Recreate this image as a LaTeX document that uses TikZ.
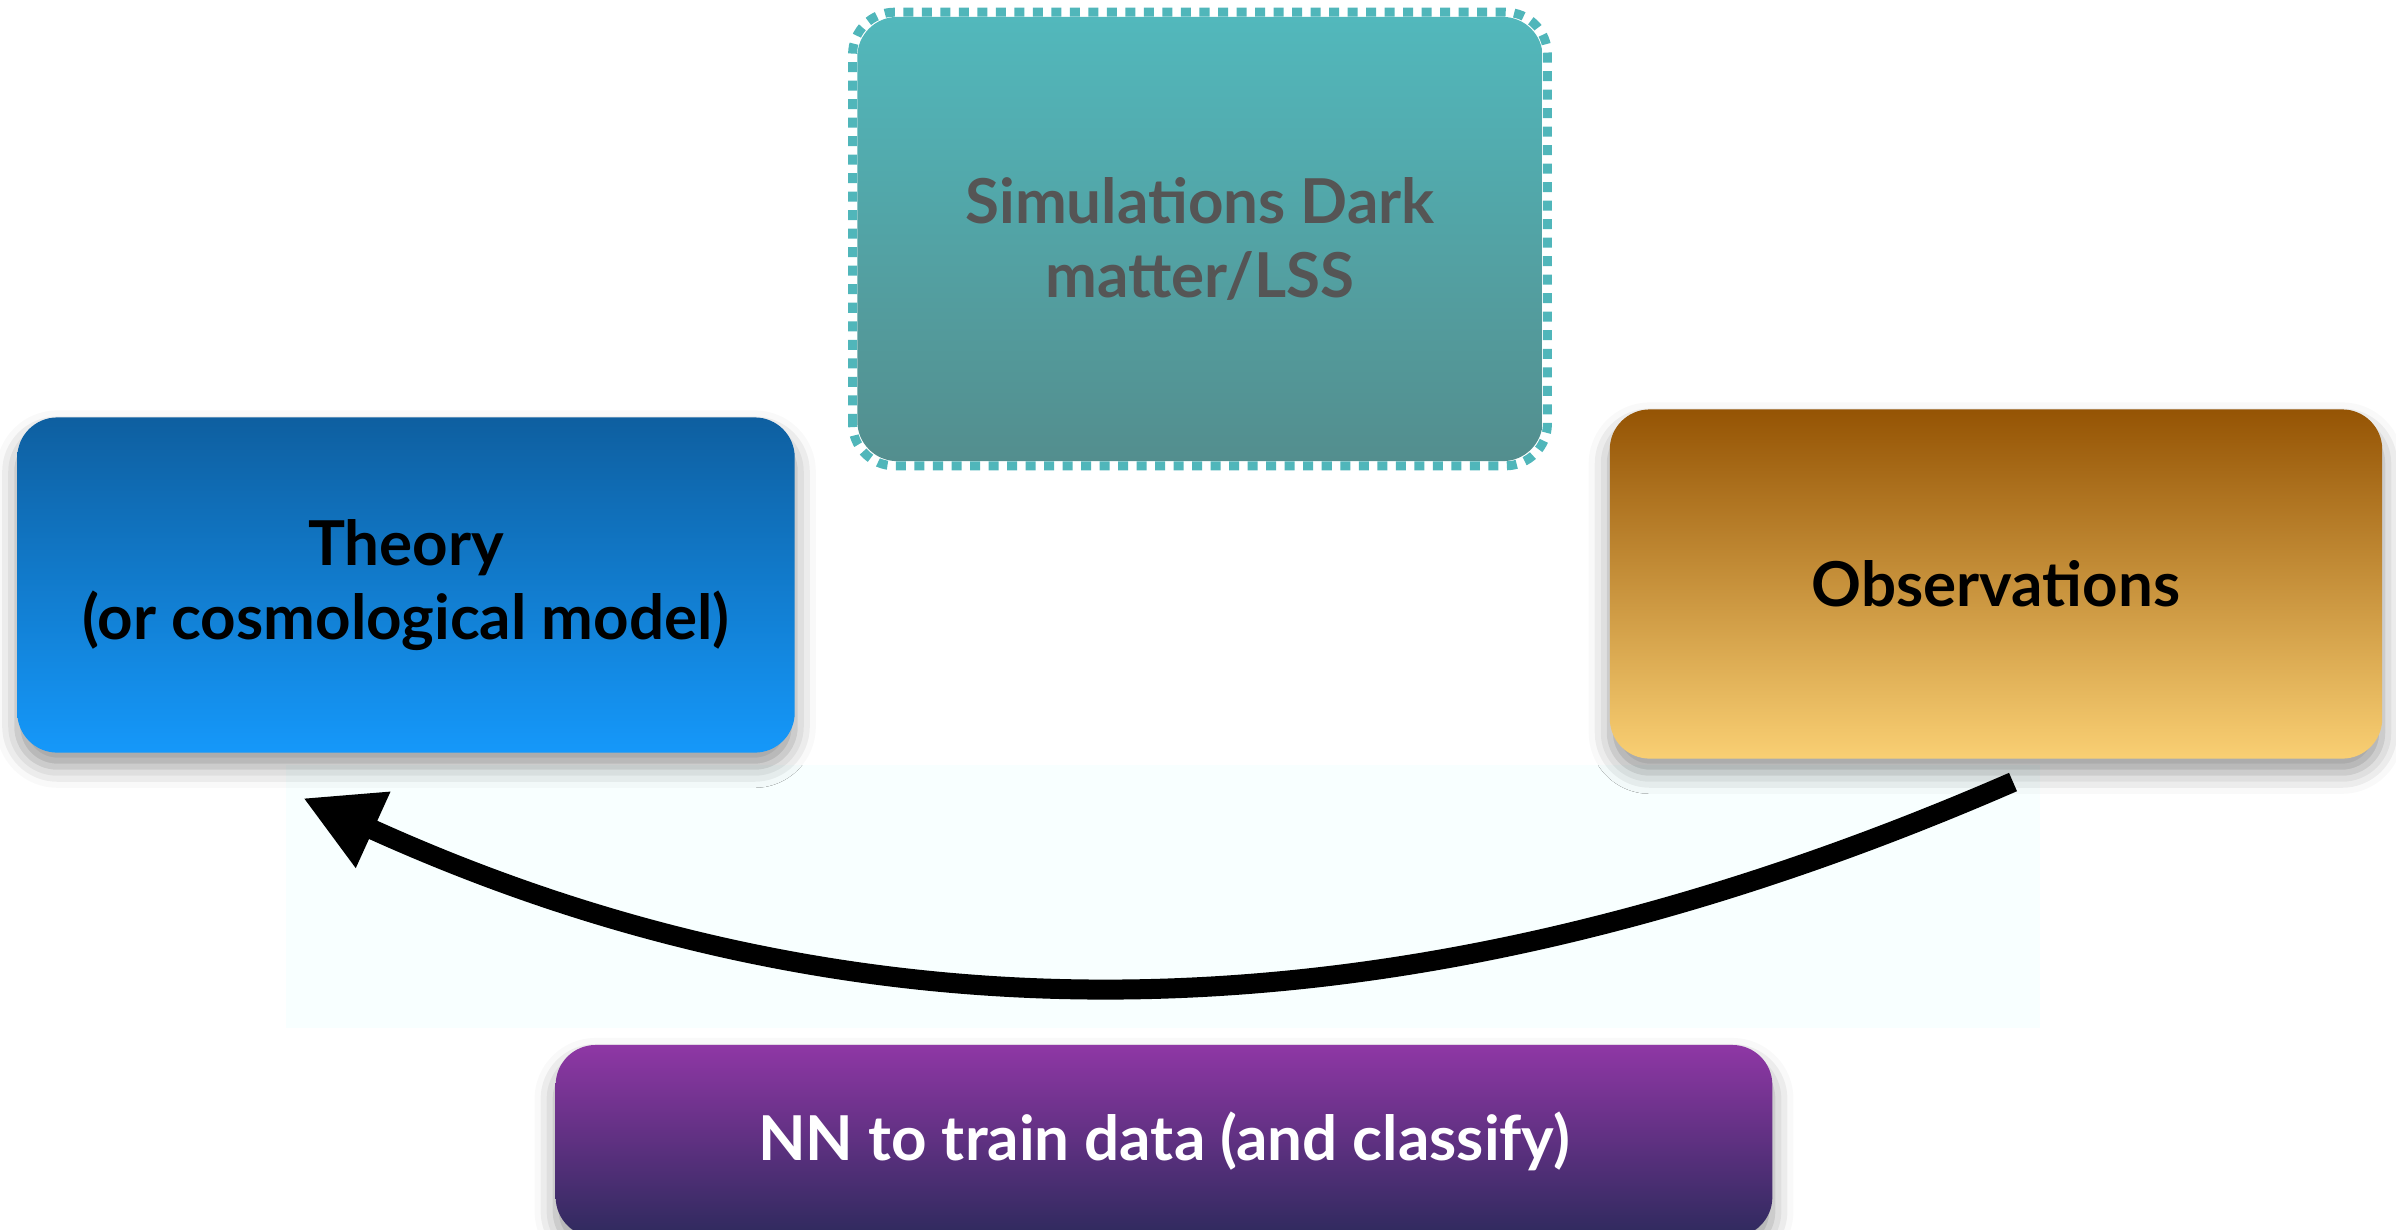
\documentclass[tikz,border=0pt]{standalone}
\usepackage{fontspec}
\setmainfont{Lato}
\usetikzlibrary{arrows.meta,shadows.blur}

\definecolor{theoryTop}{RGB}{14,95,160}
\definecolor{theoryBot}{RGB}{21,152,250}
\definecolor{simTop}{RGB}{82,184,188}
\definecolor{simBot}{RGB}{83,142,142}
\definecolor{simEdge}{RGB}{80,182,186}
\definecolor{simText}{RGB}{85,85,85}
\definecolor{obsTop}{RGB}{149,84,4}
\definecolor{obsBot}{RGB}{249,207,115}
\definecolor{nnTop}{RGB}{143,55,165}
\definecolor{nnBot}{RGB}{46,42,93}
\definecolor{bandFill}{RGB}{248,255,255}

\tikzset{
  card/.style={rounded corners=0.4cm, inner sep=0pt, align=center,
    font=\fontsize{17.6}{21}\selectfont\bfseries},
  softshadow/.style={blur shadow={shadow xshift=0pt, shadow yshift=-4pt,
                 shadow blur radius=6pt, shadow opacity=40}},
  flowarrow/.style={line width=0.2cm, line cap=butt,
    -{Triangle[length=0.77cm, width=0.78cm]}}
}

\begin{document}
\begin{tikzpicture}[x=0.01cm, y=-0.01cm]
\useasboundingbox (0,0) rectangle (2396,1229);

% pale band behind the curved arrow
\fill[bandFill] (286,765) rectangle (2040,1028);

% the four boxes
\node[card, softshadow, top color=theoryTop, bottom color=theoryBot,
      minimum width=7.77cm, minimum height=3.35cm]
  (theory) at (406,585) {Theory\\(or cosmological model)};

\node[card, top color=simTop, bottom color=simBot, text=simText,
      minimum width=6.85cm, minimum height=4.44cm]
  (sim) at (1200,239) {Simulations Dark\\matter/LSS};
% dashed outline of the simulations box
\draw[simEdge, line width=0.09cm, dash pattern=on 0.1cm off 0.085cm,
      rounded corners=0.42cm]
  (sim.south west) ++(-4,4) rectangle ([shift={(4,-4)}]sim.north east);

\node[card, softshadow, top color=obsTop, bottom color=obsBot,
      minimum width=7.72cm, minimum height=3.49cm]
  (obs) at (1996,584) {Observations};

\node[card, softshadow, top color=nnTop, bottom color=nnBot, text=white,
      minimum width=12.16cm, minimum height=1.92cm]
  (nn) at (1164,1141) {NN to train data (and classify)};

% curved arrow from observations back to theory
\coordinate (obsend) at (2013,782);
\coordinate (theoryend) at (303,798);
\draw[flowarrow] (obsend) .. controls (1420,1040) and (880,1060) .. (theoryend);
\end{tikzpicture}
\end{document}
